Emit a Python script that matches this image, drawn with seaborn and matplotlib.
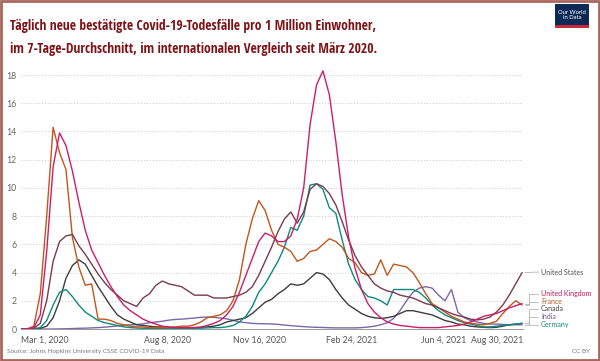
import numpy as np
import pandas as pd
import matplotlib
matplotlib.use("Agg")
import matplotlib.pyplot as plt
import matplotlib.transforms as mtrans
import matplotlib.font_manager as fm
from matplotlib.patches import Rectangle
import seaborn as sns

# ---- data (weekly samples, deaths per million, 7-day avg) ----
start_date = "2020-03-01"
n_weeks = 79

united_states = [0, 0.0, 0.05, 0.4, 2.0, 4.8, 6.2, 6.6, 6.7, 5.9,
                 5.3, 4.6, 3.9, 3.3, 2.8, 2.4, 2.0, 1.8, 1.6, 2.2,
                 2.5, 3.1, 3.4, 3.2, 3.1, 3.0, 2.7, 2.4, 2.4, 2.4,
                 2.2, 2.2, 2.2, 2.3, 2.4, 2.6, 3.0, 3.8, 4.8, 5.8,
                 6.9, 7.8, 8.3, 7.5, 8.3, 9.9, 10.3, 10.1, 9.6, 8.8,
                 7.6, 6.3, 5.2, 4.4, 3.8, 3.2, 2.9, 2.7, 2.6, 2.4,
                 2.3, 2.2, 2.0, 1.8, 1.7, 1.5, 1.3, 1.1, 0.95, 0.85,
                 0.7, 0.65, 0.7, 0.85, 1.2, 1.7, 2.4, 3.2, 4.0]

united_kingdom = [0, 0.01, 0.1, 1.0, 5.5, 11.5, 13.9, 13.0, 11.2, 9.0,
                  7.0, 5.6, 4.7, 3.8, 3.0, 2.3, 1.7, 1.3, 1.0, 0.7,
                  0.5, 0.35, 0.2, 0.15, 0.1, 0.1, 0.1, 0.1, 0.15, 0.25,
                  0.4, 0.6, 1.0, 1.6, 2.6, 3.8, 5.0, 6.2, 6.8, 6.6,
                  6.2, 6.2, 6.6, 7.8, 10.0, 14.5, 17.3, 18.3, 16.6, 13.3,
                  9.5, 6.5, 4.3, 2.8, 1.8, 1.2, 0.8, 0.5, 0.35, 0.25,
                  0.2, 0.15, 0.1, 0.1, 0.1, 0.1, 0.15, 0.2, 0.25, 0.35,
                  0.5, 0.7, 0.9, 1.0, 1.1, 1.3, 1.5, 1.65, 1.8]

france = [0, 0.02, 0.2, 2.5, 8.0, 14.3, 12.5, 11.3, 6.5, 4.4,
          3.1, 3.2, 0.7, 0.7, 0.6, 0.4, 0.3, 0.2, 0.15, 0.15,
          0.1, 0.1, 0.1, 0.1, 0.15, 0.2, 0.2, 0.3, 0.5, 0.8,
          0.9, 1.0, 1.3, 2.0, 3.5, 6.0, 7.8, 9.1, 8.4, 7.0,
          6.0, 5.8, 5.5, 4.8, 5.0, 5.5, 5.6, 6.0, 6.4, 6.2,
          5.8, 5.0, 4.7, 4.0, 3.8, 3.9, 4.9, 3.8, 4.6, 4.5,
          4.4, 4.0, 3.3, 2.5, 1.8, 1.5, 1.2, 0.9, 0.7, 0.5,
          0.4, 0.35, 0.3, 0.4, 0.55, 1.1, 1.6, 2.0, 1.7]

canada = [0, 0, 0.0, 0.05, 0.2, 0.8, 2.0, 3.6, 4.5, 4.9,
          4.6, 3.8, 3.0, 2.3, 1.6, 1.0, 0.7, 0.5, 0.3, 0.25,
          0.2, 0.15, 0.15, 0.12, 0.1, 0.1, 0.1, 0.1, 0.1, 0.15,
          0.2, 0.3, 0.5, 0.6, 0.7, 0.8, 1.1, 1.5, 1.9, 2.1,
          2.5, 2.8, 3.2, 3.1, 3.2, 3.6, 4.0, 3.9, 3.5, 2.8,
          2.2, 1.7, 1.4, 1.1, 0.9, 0.8, 0.75, 0.8, 0.9, 1.1,
          1.3, 1.3, 1.2, 1.1, 1.0, 0.8, 0.6, 0.5, 0.35, 0.3,
          0.2, 0.15, 0.12, 0.1, 0.12, 0.2, 0.3, 0.35, 0.4]

india = [0, 0, 0, 0, 0, 0.0, 0.01, 0.02, 0.03, 0.05,
         0.06, 0.08, 0.1, 0.13, 0.17, 0.22, 0.27, 0.3, 0.32, 0.36,
         0.45, 0.5, 0.55, 0.63, 0.68, 0.7, 0.74, 0.78, 0.83, 0.85,
         0.83, 0.78, 0.72, 0.62, 0.5, 0.45, 0.4, 0.38, 0.37, 0.36,
         0.33, 0.28, 0.24, 0.2, 0.17, 0.14, 0.12, 0.11, 0.09, 0.08,
         0.08, 0.08, 0.08, 0.1, 0.14, 0.2, 0.3, 0.45, 0.75, 1.3,
         2.0, 2.6, 2.9, 3.0, 2.9, 2.4, 2.0, 2.8, 1.2, 0.8,
         0.6, 0.5, 0.4, 0.35, 0.35, 0.33, 0.3, 0.3, 0.3]

germany = [0, 0, 0.01, 0.1, 0.6, 1.7, 2.6, 2.8, 2.3, 1.7,
           1.2, 0.9, 0.6, 0.45, 0.35, 0.25, 0.15, 0.1, 0.07, 0.05,
           0.05, 0.05, 0.05, 0.05, 0.05, 0.05, 0.05, 0.05, 0.06, 0.08,
           0.1, 0.1, 0.15, 0.25, 0.5, 0.9, 1.6, 2.6, 3.2, 4.0,
           4.8, 5.8, 7.2, 7.0, 8.0, 10.2, 10.3, 9.9, 8.6, 8.2,
           6.3, 4.6, 3.5, 2.8, 2.3, 2.2, 2.0, 1.7, 2.8, 2.8,
           2.8, 2.8, 2.6, 2.2, 1.7, 1.3, 1.0, 0.8, 0.6, 0.45,
           0.35, 0.25, 0.15, 0.15, 0.2, 0.25, 0.3, 0.35, 0.4]

countries = ["United States", "United Kingdom", "France", "Canada", "India", "Germany"]
colors = {"United States": "#7a3b4e", "United Kingdom": "#cc1d6a", "France": "#c0561b",
          "Canada": "#3d3d3d", "India": "#7b68a6", "Germany": "#0e8a80"}
label_colors = {"United States": "#5a4848", "United Kingdom": "#c2185b", "France": "#b5551d",
                "Canada": "#444444", "India": "#6b5b8c", "Germany": "#1a8a80"}
y_ticks = [0, 2, 4, 6, 8, 10, 12, 14, 16, 18]
x_tick_dates = ["2020-03-01", "2020-08-08", "2020-11-16", "2021-02-24", "2021-06-04", "2021-08-30"]
x_tick_labels = ["Mar 1, 2020", "Aug 8, 2020", "Nov 16, 2020", "Feb 24, 2021", "Jun 4, 2021", "Aug 30, 2021"]
label_y = {"United States": 4.04, "United Kingdom": 2.5, "France": 1.95,
           "Canada": 1.42, "India": 0.86, "Germany": 0.32}

title_lines = ["Täglich neue bestätigte Covid-19-Todesfälle pro 1 Million Einwohner,",
               "im 7-Tage-Durchschnitt, im internationalen Vergleich seit März 2020."]
source = "Source: Johns Hopkins University CSSE COVID-19 Data"

# ---- build frame ----
dates = pd.date_range(start_date, periods=n_weeks, freq="7D")
series = {"United States": united_states, "United Kingdom": united_kingdom,
          "France": france, "Canada": canada, "India": india, "Germany": germany}
df = pd.concat([pd.DataFrame({"date": dates, "value": series[c], "country": c}) for c in countries],
               ignore_index=True)

sns.set_style("white")
plt.rcParams["font.family"] = ["Lato", "DejaVu Sans"]

# pick a narrow font for the title if one is installed
title_font = None
title_stretch = "normal"
ttf = fm.fontManager.ttflist
names = {f.name for f in ttf}
for cand in ["Liberation Sans Narrow", "Open Sans Condensed", "Roboto Condensed", "Noto Sans Condensed"]:
    if cand in names:
        title_font = cand
        break
if title_font is None:
    for fam in ["Noto Sans", "Open Sans", "DejaVu Sans"]:
        if any(f.name == fam and f.stretch in ("condensed", "semi-condensed", "extra-condensed", 500, 400, 300)
               and str(f.stretch) != "normal" for f in ttf):
            title_font = fam
            title_stretch = "condensed"
            break
if title_font is None:
    title_font = "Lato"

fig = plt.figure(figsize=(6.0, 3.61), dpi=100)
ax = fig.add_axes([0.035, 0.0886, 0.8367, 0.723])

draw_order = ["India", "Canada", "Germany", "France", "United States", "United Kingdom"]
sns.lineplot(data=df, x="date", y="value", hue="country", hue_order=draw_order,
             palette=colors, linewidth=1.0, legend=False, ax=ax)

xmin = pd.Timestamp("2020-03-01")
xmax = pd.Timestamp("2021-08-30")
ax.set_xlim(xmin, xmax)
ax.set_ylim(0, 18.5)
ax.set_xlabel("")
ax.set_ylabel("")

ax.set_yticks(y_ticks)
ax.set_yticklabels([str(v) for v in y_ticks])
ax.set_xticks(pd.to_datetime(x_tick_dates))
ax.set_xticklabels(x_tick_labels)
ax.tick_params(axis="y", length=0, labelsize=6.3, labelcolor="#666666", pad=3)
ax.tick_params(axis="x", length=3, width=0.6, color="#999999", labelsize=6.3,
               labelcolor="#555555", pad=2)
xt = ax.get_xticklabels()
xt[0].set_horizontalalignment("left")
xt[-1].set_horizontalalignment("right")

ax.grid(axis="y", linestyle=(0, (1.5, 2)), color="#cccccc", linewidth=0.6)
ax.grid(axis="x", visible=False)
for s in ["top", "right", "left"]:
    ax.spines[s].set_visible(False)
ax.spines["bottom"].set_color("#999999")
ax.spines["bottom"].set_linewidth(0.7)
ax.set_axisbelow(True)

# right-hand labels with connector lines
trans = mtrans.blended_transform_factory(ax.transAxes, ax.transData)
for c in countries:
    ey = series[c][-1]
    ly = label_y[c]
    if c == "United States":
        xs = [1.004, 1.032]
        ys = [ey, ly]
    else:
        xs = [1.004, 1.012, 1.012, 1.030]
        ys = [ey, ey, ly, ly]
    ax.plot(xs, ys, transform=trans, color="#b5b5b5", linewidth=0.6, clip_on=False)
    ax.text(1.036, ly, c, transform=trans, color=label_colors[c], fontsize=5.0,
            va="center", ha="left")

# title: fit first line to the reference width (~366 px)
renderer = fig.canvas.get_renderer()
fs = 11.0
probe = fig.text(0, 0, title_lines[0], fontsize=fs, fontweight="bold",
                 family=[title_font, "Lato", "DejaVu Sans"], fontstretch=title_stretch)
w = probe.get_window_extent(renderer=renderer).width
probe.remove()
fs = fs * 366.0 / w
fs = min(fs, 11.5)
for i, line in enumerate(title_lines):
    fig.text(0.017, 0.918 - i * 0.064, line, fontsize=fs, fontweight="bold", color="#7f1418",
             va="baseline", ha="left", family=[title_font, "Lato", "DejaVu Sans"],
             fontstretch=title_stretch)

# logo
fig.add_artist(Rectangle((0.925, 0.93), 0.056, 0.058, transform=fig.transFigure,
                         facecolor="#0d2a57", edgecolor="none"))
fig.add_artist(Rectangle((0.925, 0.922), 0.056, 0.009, transform=fig.transFigure,
                         facecolor="#c8283c", edgecolor="none"))
fig.text(0.953, 0.959, "Our World\nin Data", fontsize=4.2, color="white",
         ha="center", va="center", linespacing=1.0)

# footer
fig.text(0.012, 0.025, source, fontsize=4.6, color="#777777", ha="left", va="center")
fig.text(0.983, 0.025, "CC BY", fontsize=4.6, color="#777777", ha="right", va="center")

# frame
fig.add_artist(Rectangle((0.002, 0.003), 0.996, 0.994, transform=fig.transFigure,
                         facecolor="none", edgecolor="#a8675d", linewidth=2.0))

fig.savefig("out.png", dpi=100)
